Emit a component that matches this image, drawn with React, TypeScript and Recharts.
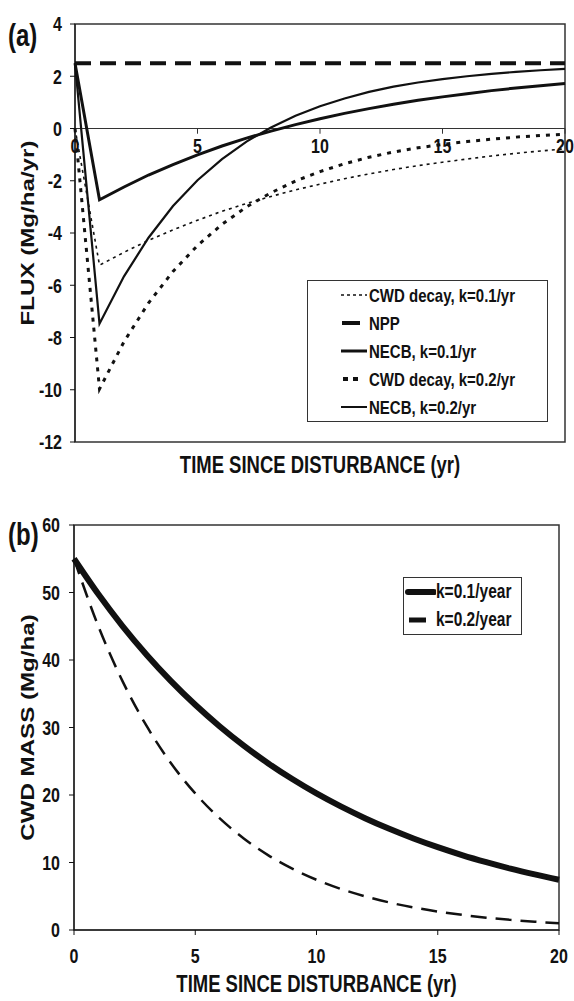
import { LineChart, Line, XAxis, YAxis, ReferenceLine, ReferenceArea, Label } from 'recharts';

// time since disturbance (yr)
const years = [0, 1, 2, 3, 4, 5, 6, 7, 8, 9, 10, 11, 12, 13, 14, 15, 16, 17, 18, 19, 20];

// panel (a) fluxes, Mg/ha/yr
const npp = [2.5, 2.5, 2.5, 2.5, 2.5, 2.5, 2.5, 2.5, 2.5, 2.5, 2.5, 2.5, 2.5, 2.5, 2.5, 2.5, 2.5, 2.5, 2.5, 2.5, 2.5];
const cwdDecayK01 = [0, -5.23, -4.74, -4.28, -3.88, -3.51, -3.17, -2.87, -2.6, -2.35, -2.13, -1.92, -1.74, -1.57, -1.42, -1.29, -1.17, -1.05, -0.95, -0.86, -0.78];
const necbK01 = [2.5, -2.73, -2.24, -1.78, -1.38, -1.01, -0.67, -0.37, -0.1, 0.15, 0.37, 0.58, 0.76, 0.93, 1.08, 1.21, 1.33, 1.45, 1.55, 1.64, 1.72];
const cwdDecayK02 = [0, -9.97, -8.16, -6.68, -5.47, -4.48, -3.67, -3.0, -2.46, -2.01, -1.65, -1.35, -1.1, -0.9, -0.74, -0.61, -0.5, -0.41, -0.33, -0.27, -0.22];
const necbK02 = [2.5, -7.47, -5.66, -4.18, -2.97, -1.98, -1.17, -0.5, 0.04, 0.49, 0.85, 1.15, 1.4, 1.6, 1.76, 1.89, 2.0, 2.09, 2.17, 2.23, 2.28];

// panel (b) CWD mass, Mg/ha
const massK01 = [55, 49.77, 45.03, 40.75, 36.87, 33.36, 30.19, 27.31, 24.71, 22.36, 20.23, 18.31, 16.57, 14.99, 13.56, 12.27, 11.1, 10.05, 9.09, 8.23, 7.44];
const massK02 = [55, 45.03, 36.87, 30.19, 24.71, 20.23, 16.57, 13.56, 11.1, 9.09, 7.44, 6.09, 4.99, 4.08, 3.34, 2.74, 2.24, 1.83, 1.5, 1.23, 1.01];

const yearTicks = [0, 5, 10, 15, 20];
const fluxTicks = [-12, -10, -8, -6, -4, -2, 0, 2, 4];
const massTicks = [0, 10, 20, 30, 40, 50, 60];

const fluxData = years.map((t, i) => ({
  t,
  npp: npp[i],
  cwd01: cwdDecayK01[i],
  necb01: necbK01[i],
  cwd02: cwdDecayK02[i],
  necb02: necbK02[i],
}));

const massData = years.map((t, i) => ({ t, k01: massK01[i], k02: massK02[i] }));

// the original figure is stretched vertically, so its Arial looks condensed
const FONT = "'Liberation Sans', Arial, sans-serif";
const STRETCH = 1.27;
const INK = '#111';

// text drawn at (x, y) and stretched vertically around that point
function Stretched({ x, y, value, size, anchor, dy }: { x: number; y: number; value: string; size: number; anchor: 'start' | 'middle' | 'end'; dy: string }) {
  return (
    <g transform={`translate(${x},${y}) scale(1,${STRETCH})`}>
      <text x={0} y={0} dy={dy} textAnchor={anchor} fontFamily={FONT} fontWeight={700} fontSize={size} fill={INK}>
        {value}
      </text>
    </g>
  );
}

const yTick = (p: any) => <Stretched x={p.x} y={p.y} value={String(p.payload.value)} size={16} anchor="end" dy="0.36em" />;
const xTick = (p: any) => <Stretched x={p.x} y={p.y} value={String(p.payload.value)} size={16} anchor="middle" dy="0.72em" />;

const xTitle = (offset: number) => (p: any) => {
  const vb = p.viewBox;
  return <Stretched x={vb.x + vb.width / 2} y={vb.y + vb.height - offset} value={String(p.value)} size={18.5} anchor="middle" dy="-0.02em" />;
};

const yTitle = (p: any) => {
  const vb = p.viewBox;
  return (
    <g transform={`translate(${vb.x + 27},${vb.y + vb.height / 2}) rotate(-90) scale(${STRETCH},1)`}>
      <text x={0} y={0} dy="0.36em" textAnchor="middle" fontFamily={FONT} fontWeight={700} fontSize={19} fill={INK}>
        {p.value}
      </text>
    </g>
  );
};

const zeroTickLabel = (p: any) => {
  const vb = p.viewBox;
  return <Stretched x={vb.x + vb.width / 2} y={vb.y + vb.height + 5} value={String(p.value)} size={16} anchor="middle" dy="0.72em" />;
};

interface LegendRow {
  name: string;
  width: number;
  dash?: string;
  x1: number;
  x2: number;
  cap?: 'butt' | 'round';
}

const fluxLegend: LegendRow[] = [
  { name: 'CWD decay, k=0.1/yr', width: 1.6, dash: '3 3', x1: 33, x2: 59 },
  { name: 'NPP', width: 4, x1: 34, x2: 52 },
  { name: 'NECB, k=0.1/yr', width: 3, x1: 33, x2: 59 },
  { name: 'CWD decay, k=0.2/yr', width: 4, dash: '5 5', x1: 35, x2: 51 },
  { name: 'NECB, k=0.2/yr', width: 2, x1: 33, x2: 59 },
];

const massLegend: LegendRow[] = [
  { name: 'k=0.1/year', width: 6, x1: 4, x2: 30, cap: 'round' },
  { name: 'k=0.2/year', width: 5, x1: 5, x2: 22 },
];

function LegendBox({ rows, left, top, width, rowH, textX, fontSize }: { rows: LegendRow[]; left: number; top: number; width: number; rowH: number; textX: number; fontSize: number }) {
  return (
    <div
      style={{
        position: 'absolute',
        left,
        top,
        width,
        border: '1px solid #333',
        background: '#fff',
        boxSizing: 'border-box',
      }}
    >
      {rows.map((r) => (
        <div key={r.name} style={{ height: rowH, display: 'flex', alignItems: 'center' }}>
          <svg width={textX} height={rowH} style={{ flex: 'none' }}>
            <line
              x1={r.x1}
              x2={r.x2}
              y1={rowH / 2}
              y2={rowH / 2}
              stroke={INK}
              strokeWidth={r.width}
              strokeDasharray={r.dash}
              strokeLinecap={r.cap ?? 'butt'}
            />
          </svg>
          <span
            style={{
              display: 'inline-block',
              fontFamily: FONT,
              fontWeight: 700,
              fontSize,
              lineHeight: 1,
              color: INK,
              whiteSpace: 'nowrap',
              transform: `scaleY(${STRETCH})`,
            }}
          >
            {r.name}
          </span>
        </div>
      ))}
    </div>
  );
}

function FluxPanel() {
  return (
    <LineChart width={574} height={480} data={fluxData} margin={{ top: 24, right: 9, bottom: 0, left: 0 }}>
      <XAxis
        dataKey="t"
        type="number"
        domain={[0, 20]}
        ticks={yearTicks}
        tick={false}
        tickLine={false}
        axisLine={false}
        height={38}
      >
        <Label value="TIME SINCE DISTURBANCE (yr)" content={xTitle(7)} />
      </XAxis>
      <YAxis
        type="number"
        domain={[-12, 4]}
        ticks={fluxTicks}
        width={75}
        tick={yTick}
        tickSize={5}
        tickMargin={8}
        stroke={INK}
        interval={0}
      >
        <Label value="FLUX (Mg/ha/yr)" content={yTitle} />
      </YAxis>
      <ReferenceArea x1={0} x2={20} y1={-12} y2={4} fill="none" stroke="#333" strokeWidth={1.5} />
      <ReferenceLine y={0} stroke="#333" strokeWidth={1} />
      {yearTicks.map((t) => (
        <ReferenceLine
          key={t}
          segment={[
            { x: t, y: 0 },
            { x: t, y: -0.2 },
          ]}
          stroke="#333"
          label={<Label value={String(t)} content={zeroTickLabel} />}
        />
      ))}
      <Line dataKey="cwd01" stroke={INK} strokeWidth={1.6} strokeDasharray="3 4" dot={false} isAnimationActive={false} />
      <Line dataKey="cwd02" stroke={INK} strokeWidth={3} strokeDasharray="4 6" dot={false} isAnimationActive={false} />
      <Line dataKey="necb02" stroke={INK} strokeWidth={2.2} dot={false} isAnimationActive={false} />
      <Line dataKey="necb01" stroke={INK} strokeWidth={3} dot={false} isAnimationActive={false} />
      <Line dataKey="npp" stroke={INK} strokeWidth={4} strokeDasharray="16 9" dot={false} isAnimationActive={false} />
    </LineChart>
  );
}

function MassPanel() {
  return (
    <LineChart width={574} height={501} data={massData} margin={{ top: 25, right: 15, bottom: 0, left: 0 }}>
      <XAxis
        dataKey="t"
        type="number"
        domain={[0, 20]}
        ticks={yearTicks}
        height={71}
        tick={xTick}
        tickSize={5}
        tickMargin={13}
        stroke={INK}
        interval={0}
      >
        <Label value="TIME SINCE DISTURBANCE (yr)" content={xTitle(9)} />
      </XAxis>
      <YAxis
        type="number"
        domain={[0, 60]}
        ticks={massTicks}
        width={74}
        tick={yTick}
        tickSize={5}
        tickMargin={9}
        stroke={INK}
        interval={0}
      >
        <Label value="CWD MASS (Mg/ha)" content={yTitle} />
      </YAxis>
      <ReferenceArea x1={0} x2={20} y1={0} y2={60} fill="none" stroke="#333" strokeWidth={1.5} />
      <Line type="monotone" dataKey="k02" stroke={INK} strokeWidth={2.5} strokeDasharray="16 9" dot={false} isAnimationActive={false} />
      <Line type="monotone" dataKey="k01" stroke={INK} strokeWidth={6} dot={false} isAnimationActive={false} />
    </LineChart>
  );
}

export default function App() {
  const panelLabel = {
    position: 'absolute' as const,
    fontFamily: FONT,
    fontWeight: 700,
    fontSize: 24,
    color: INK,
    lineHeight: 1,
    transform: `scaleY(${STRETCH})`,
    transformOrigin: 'left top',
  };
  return (
    <div style={{ position: 'absolute', left: 0, top: 0, width: 574, height: 1001, background: '#fff' }}>
      <div style={{ position: 'absolute', left: 0, top: 0 }}>
        <FluxPanel />
      </div>
      <div style={{ position: 'absolute', left: 0, top: 500 }}>
        <MassPanel />
      </div>
      <LegendBox rows={fluxLegend} left={307} top={280} width={241} rowH={28} textX={61} fontSize={15} />
      <LegendBox rows={massLegend} left={403} top={577} width={119} rowH={28} textX={32} fontSize={15.5} />
      <div style={{ ...panelLabel, left: 8, top: 21 }}>(a)</div>
      <div style={{ ...panelLabel, left: 8, top: 520 }}>(b)</div>
    </div>
  );
}
